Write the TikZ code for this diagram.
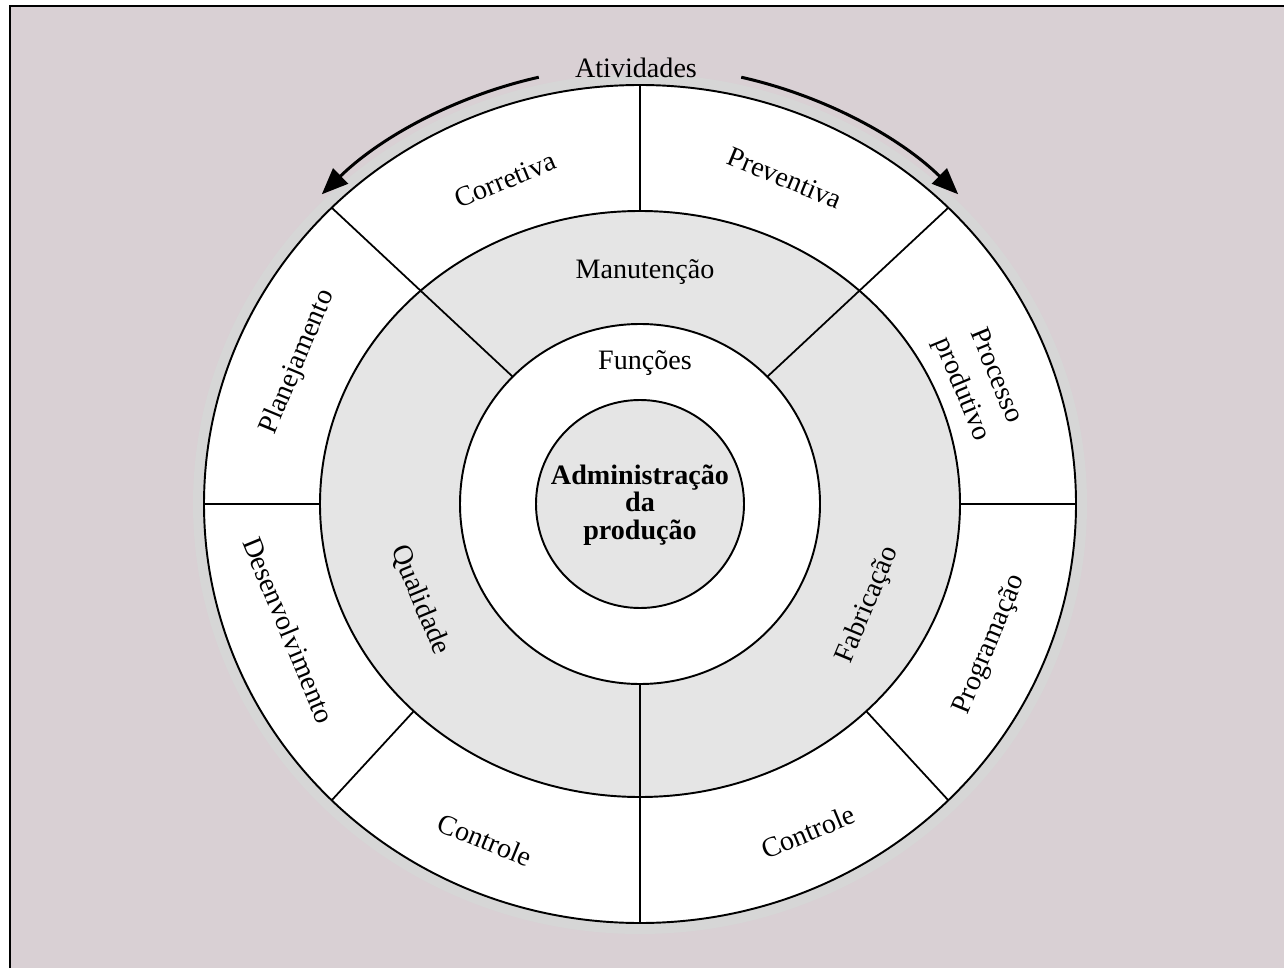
\documentclass[tikz,border=0pt]{standalone}
\usepackage{fontspec}
\setmainfont{Liberation Serif}
\usetikzlibrary{calc,arrows.meta}
\definecolor{bgc}{RGB}{217,208,212}
\definecolor{haloc}{RGB}{214,214,214}
\definecolor{ringc}{RGB}{229,229,229}
\tikzset{
  lbl/.style={font=\fontsize{16}{15.5}\selectfont, align=center, inner sep=0pt},
  divline/.style={line width=1pt},
  ringline/.style={line width=1.1pt},
  actarrow/.style={line width=1.7pt, -{Triangle[length=15pt,width=12pt]}},
}
\begin{document}
\begin{tikzpicture}[x=0.02cm,y=0.02cm]
\useasboundingbox (0,0) rectangle (1284,968);
% background and frame
\fill[bgc] (10,0) rectangle (1284,962);
\draw[line width=1.6pt] (10,0) -- (10,962) -- (1284,962);
\coordinate (C) at (640,464);
% rings
\fill[haloc] (C) ellipse [x radius=447, y radius=430];
\filldraw[fill=white, ringline] (C) ellipse [x radius=436, y radius=419];
\filldraw[fill=ringc, ringline] (C) ellipse [x radius=320, y radius=293];
\filldraw[fill=white, ringline] (C) circle [radius=180];
\filldraw[fill=ringc, ringline] (C) circle [radius=104];
% dividers
\foreach \a in {0,90,180,225,315}
  \draw[divline] ($(C)+(\a:436 and 419)$) -- ($(C)+(\a:320 and 293)$);
\foreach \a in {45,135,270}
  \draw[divline] ($(C)+(\a:436 and 419)$) -- ($(C)+(\a:180 and 180)$);
% activity arrows
\coordinate (aL) at ($(C)+(103:450 and 438)$);
\coordinate (aR) at ($(C)+(77:450 and 438)$);
\draw[actarrow] (aL) arc [start angle=103, end angle=135, x radius=450, y radius=438];
\draw[actarrow] (aR) arc [start angle=77, end angle=45, x radius=450, y radius=438];
% labels
\node[lbl] (ativ) at (636,900) {Atividades};
\node[lbl, rotate=22.5] (corr) at (505,788) {Corretiva};
\node[lbl, rotate=-22.5] (prev) at (785,790) {Preventiva};
\node[lbl, rotate=-67.5, font=\fontsize{16}{21}\selectfont] (proc) at (978,585) {Processo\\produtivo};
\node[lbl, rotate=67.5] (prog) at (990,323) {Programação};
\node[lbl, rotate=22.5] (ctrR) at (808,136) {Controle};
\node[lbl, rotate=-22.5] (ctrL) at (485,128) {Controle};
\node[lbl, rotate=-67.5] (dese) at (289,338) {Desenvolvimento};
\node[lbl, rotate=67.5] (plan) at (298,606) {Planejamento};
\node[lbl] (manu) at (645,696) {Manutenção};
\node[lbl] (func) at (645,605) {Funções};
\node[lbl, rotate=-67.5] (qual) at (420,368) {Qualidade};
\node[lbl, rotate=67.5] (fabr) at (868,363) {Fabricação};
\node[lbl, font=\bfseries\fontsize{16}{15.5}\selectfont] (admin) at (640,463) {Administração\\da\\produção};
\end{tikzpicture}
\end{document}
